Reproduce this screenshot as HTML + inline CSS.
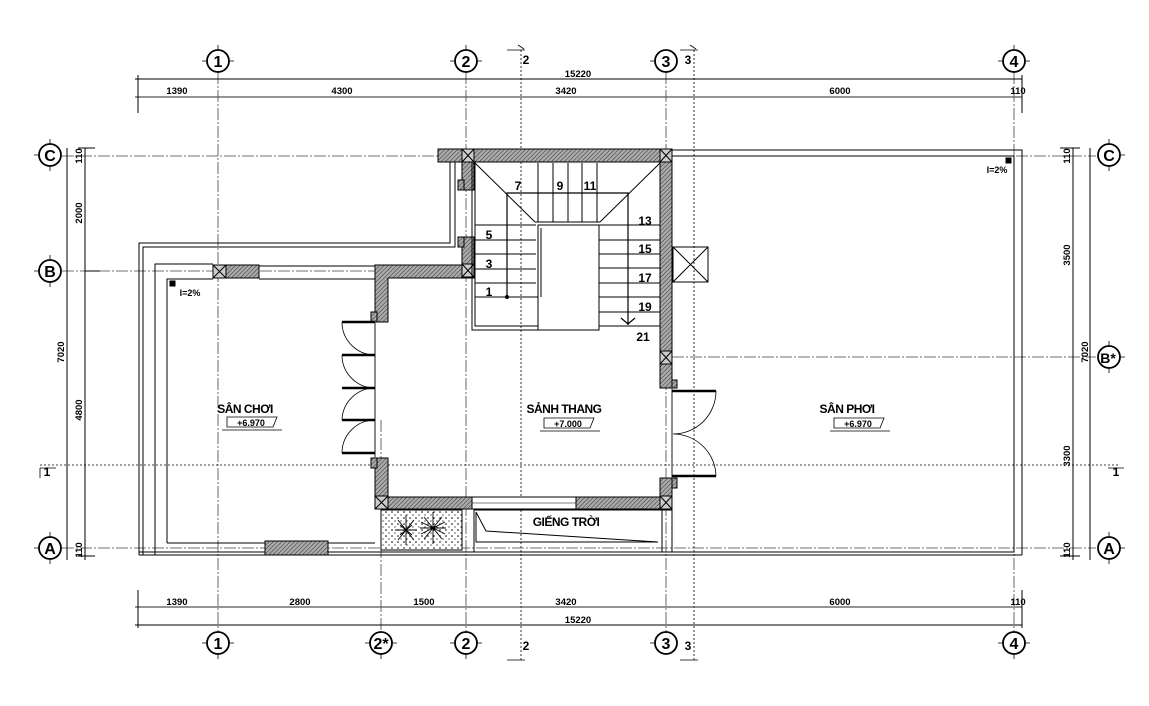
<!DOCTYPE html>
<html><head><meta charset="utf-8"><style>
html,body{margin:0;padding:0;background:#fff}
svg{display:block}
text{font-family:"Liberation Sans",sans-serif;font-weight:bold;fill:#000}
</style></head><body>
<svg width="1149" height="706" viewBox="0 0 1149 706" xmlns="http://www.w3.org/2000/svg">
<defs>
<pattern id="h" width="3" height="3" patternUnits="userSpaceOnUse" patternTransform="rotate(45)">
<rect width="3" height="3" fill="#aaa"/><line x1="0" y1="0" x2="0" y2="3" stroke="#333" stroke-width="1"/>
</pattern>
<pattern id="dots" width="6" height="6" patternUnits="userSpaceOnUse">
<rect width="6" height="6" fill="#fff"/><circle cx="2" cy="2" r="0.8" fill="#000"/><circle cx="5" cy="5" r="0.6" fill="#000"/>
</pattern>
</defs>
<g fill="none" stroke="#000" stroke-width="1">
<g stroke="#444" stroke-dasharray="12,2,2,2" stroke-width="0.8">
<line x1="218" y1="72" x2="218" y2="632"/>
<line x1="466" y1="72" x2="466" y2="632"/>
<line x1="666" y1="72" x2="666" y2="632"/>
<line x1="1014" y1="72" x2="1014" y2="632"/>
<line x1="381" y1="420" x2="381" y2="632"/>
<line x1="62" y1="156" x2="1096" y2="156"/>
<line x1="62" y1="271" x2="470" y2="271"/>
<line x1="672" y1="357" x2="1096" y2="357"/>
<line x1="62" y1="548" x2="1096" y2="548"/>
</g>
<g stroke="#000" stroke-dasharray="2,2" stroke-width="0.8">
<line x1="521" y1="50" x2="521" y2="660"/>
<line x1="694" y1="50" x2="694" y2="660"/>
<line x1="40" y1="465" x2="1120" y2="465"/>
</g>
<line x1="135" y1="79" x2="1022" y2="79"/>
<line x1="135" y1="97" x2="1022" y2="97" stroke="#555" stroke-width="1.3"/>
<line x1="138" y1="75" x2="138" y2="113"/>
<line x1="1022" y1="75" x2="1022" y2="113"/>
<line x1="135" y1="607" x2="1022" y2="607" stroke="#555" stroke-width="1.3"/>
<line x1="135" y1="625" x2="1022" y2="625"/>
<line x1="138" y1="590" x2="138" y2="628"/>
<line x1="1022" y1="590" x2="1022" y2="628"/>
<line x1="67" y1="148" x2="67" y2="560"/>
<line x1="85" y1="148" x2="85" y2="560"/>
<line x1="78" y1="148" x2="95" y2="148"/><line x1="78" y1="556" x2="95" y2="556"/>
<line x1="85" y1="271" x2="100" y2="271"/>
<line x1="1073" y1="148" x2="1073" y2="560"/>
<line x1="1090" y1="148" x2="1090" y2="560"/>
<line x1="1060" y1="148" x2="1080" y2="148"/><line x1="1060" y1="556" x2="1080" y2="556"/>
<g stroke-width="1.8">
<circle cx="218" cy="61" r="11"/><circle cx="466" cy="61" r="11"/><circle cx="666" cy="61" r="11"/><circle cx="1014" cy="61" r="11"/>
<circle cx="218" cy="643" r="11"/><circle cx="381" cy="643" r="11"/><circle cx="466" cy="643" r="11"/><circle cx="666" cy="643" r="11"/><circle cx="1014" cy="643" r="11"/>
<circle cx="50" cy="155" r="11"/><circle cx="50" cy="271" r="11"/><circle cx="50" cy="548" r="11"/>
<circle cx="1109" cy="155" r="11"/><circle cx="1109" cy="357" r="11"/><circle cx="1109" cy="548" r="11"/>
</g>
<g stroke-width="0.8">
<path d="M202 61h5M229 61h5M218 45v5M450 61h5M477 61h5M466 45v5M650 61h5M998 61h5M1025 61h5M1014 45v5"/>
<path d="M202 643h5M229 643h5M218 654v5M365 643h5M392 643h5M381 654v5M450 643h5M477 643h5M466 654v5M650 643h5M998 643h5M1025 643h5M1014 654v5"/>
<path d="M34 155h5M50 139v5M50 166v5M34 271h5M50 255v5M50 282v5M34 548h5M50 532v5M50 559v5"/>
<path d="M1120 155h5M1109 139v5M1109 166v5M1120 357h5M1109 341v5M1109 368v5M1120 548h5M1109 532v5M1109 559v5"/>
<path d="M507 50h18M518 45l6 4M680 50h18M690 45l6 4M507 660h18M680 660h18M40 468h16M40 468v10M1108 468h16"/>
</g>
<path d="M139 555V243H450V155" />
<path d="M143 555V247H455V162" />
<path d="M155 555V264H213"/>
<path d="M167 543V279H213"/>
<path d="M167 543H375"/>
<line x1="139" y1="555" x2="1022" y2="555"/>
<line x1="139" y1="552" x2="672" y2="552"/>
<path d="M259 279H375"/>
<path d="M259 266H375"/>
<path d="M672 150H1022V555"/>
<path d="M672 156H1014V552H672"/>
<line x1="672" y1="476" x2="672" y2="552"/>
<g fill="url(#h)" stroke="#000" stroke-width="1">
<rect x="438" y="149" width="234" height="13"/>
<rect x="462" y="162" width="12" height="28"/>
<rect x="458" y="180" width="6" height="10"/>
<rect x="462" y="237" width="12" height="40"/>
<rect x="458" y="237" width="6" height="10"/>
<path d="M375 265H474V278H388V322H375Z"/>
<rect x="371" y="312" width="6" height="10"/>
<rect x="226" y="265" width="33" height="13"/>
<rect x="660" y="162" width="12" height="226"/>
<rect x="672" y="380" width="5" height="8"/>
<rect x="660" y="478" width="12" height="32"/>
<rect x="672" y="478" width="5" height="10"/>
<rect x="375" y="458" width="13" height="50"/>
<rect x="371" y="458" width="6" height="10"/>
<rect x="375" y="497" width="97" height="12"/>
<rect x="576" y="497" width="96" height="12"/>
<rect x="265" y="541" width="63" height="14"/>
</g>
<g fill="#ccc" stroke="#000">
<rect x="462" y="149" width="12" height="13"/><rect x="660" y="149" width="12" height="13"/>
<rect x="462" y="264" width="12" height="13"/><rect x="213" y="265" width="13" height="13"/>
<rect x="660" y="351" width="12" height="13"/><rect x="660" y="496" width="12" height="13"/>
<rect x="375" y="496" width="13" height="13"/>
</g>
<path d="M462 149l12 13M474 149l-12 13M660 149l12 13M672 149l-12 13M462 264l12 13M474 264l-12 13M213 265l13 13M226 265l-13 13M660 351l12 13M672 351l-12 13M660 496l12 13M672 496l-12 13M375 496l13 13M388 496l-13 13"/>
<line x1="375" y1="322" x2="375" y2="458" stroke-width="1.5" stroke="#666"/>
<line x1="672" y1="388" x2="672" y2="478" stroke-width="1.5" stroke="#666"/>
<rect x="472" y="497" width="104" height="12" fill="#fff"/>
<line x1="472" y1="503" x2="576" y2="503" stroke-width="0.6"/>
<path d="M472 162V330H599"/>
<path d="M475 162V326H596V225H538V297H475"/>
<rect x="538" y="225" width="61" height="105" fill="#fff"/>
<path d="M541 228V297"/>
<path d="M475 163L535 222M660 163L600 222M535 222H600"/>
<path d="M538 163V222M553 163V222M568 163V222M582 163V222M597 163V222"/>
<path d="M475 225H536M475 240H536M475 254H536M475 269H536M475 283H536"/>
<path d="M599 225H660M599 240H660M599 254H660M599 268H660M599 283H660M599 297H660M599 312H660M599 326H660"/>
<path d="M507 297V193H628V325M621 318l7 6l7-6" stroke-width="1.2"/>
<circle cx="507" cy="297" r="1.5" fill="#000"/>
<rect x="673" y="247" width="35" height="35"/>
<path d="M673 247l35 35M708 247l-35 35"/>
<g stroke-width="0.8">
<path d="M342 322H375M342 355H375M342 388H375M342 420H375M342 453H375" stroke-width="2.5"/>
<path d="M342 322A33 33 0 0 0 375 355M342 355A33 33 0 0 0 375 388M342 420A33 33 0 0 1 375 388M342 453A33 33 0 0 1 375 420"/>
<path d="M672 391H716M672 476H716" stroke-width="2.5"/>
<path d="M716 391A43 43 0 0 1 673 434M716 476A43 43 0 0 0 673 434"/>
</g>
<rect x="381" y="510" width="81" height="40" fill="url(#dots)"/>
<g stroke-width="0.9">
<path d="M395 530l22 0M406 515l0 30M398 520l16 20M414 520l-16 20M400 525l12 10M412 525l-12 10"/>
<path d="M420 528l26 0M433 512l0 32M424 517l18 22M442 517l-18 22M421 522l24 12M445 522l-24 12"/>
</g>
<rect x="474" y="510" width="188" height="42"/>
<path d="M476 512L486 531L658 542H476V512"/>
<path d="M227 417h50l-4 10h-46zM222 430h60M544 418h50l-4 10h-46zM540 431h60M834 418h50l-4 10h-46zM830 431h60" stroke-width="0.8"/>
<rect x="170" y="281" width="5" height="5" fill="#000"/>
<rect x="1006" y="158" width="5" height="5" fill="#000"/>
</g>
<g font-size="9.5" text-anchor="middle">
<text x="177" y="94">1390</text><text x="342" y="94">4300</text><text x="566" y="94">3420</text><text x="840" y="94">6000</text><text x="1018" y="94">110</text>
<text x="578" y="77">15220</text>
<text x="177" y="605">1390</text><text x="300" y="605">2800</text><text x="424" y="605">1500</text><text x="566" y="605">3420</text><text x="840" y="605">6000</text><text x="1018" y="605">110</text>
<text x="578" y="623">15220</text>
<text transform="translate(82,213) rotate(-90)">2000</text>
<text transform="translate(82,410) rotate(-90)">4800</text>
<text transform="translate(64,352) rotate(-90)">7020</text>
<text transform="translate(82,156) rotate(-90)">110</text>
<text transform="translate(82,550) rotate(-90)">110</text>
<text transform="translate(1070,255) rotate(-90)">3500</text>
<text transform="translate(1070,456) rotate(-90)">3300</text>
<text transform="translate(1088,352) rotate(-90)">7020</text>
<text transform="translate(1070,156) rotate(-90)">110</text>
<text transform="translate(1070,550) rotate(-90)">110</text>
</g>
<g font-size="16" text-anchor="middle">
<text x="218" y="67">1</text><text x="466" y="67">2</text><text x="666" y="67">3</text><text x="1014" y="67">4</text>
<text x="218" y="649">1</text><text x="381" y="649">2*</text><text x="466" y="649">2</text><text x="666" y="649">3</text><text x="1014" y="649">4</text>
<text x="50" y="161">C</text><text x="50" y="277">B</text><text x="50" y="554">A</text>
<text x="1109" y="161">C</text><text x="1108" y="363" font-size="14">B*</text><text x="1109" y="554">A</text>
</g>
<g font-size="12" text-anchor="middle">
<text x="526" y="64">2</text><text x="688" y="64">3</text><text x="526" y="650">2</text><text x="688" y="650">3</text>
<text x="47" y="476">1</text><text x="1116" y="476">1</text>
<text x="518" y="190">7</text><text x="560" y="190">9</text><text x="590" y="190">11</text>
<text x="645" y="225">13</text><text x="645" y="253">15</text><text x="645" y="282">17</text><text x="645" y="311">19</text><text x="643" y="341">21</text>
<text x="489" y="239">5</text><text x="489" y="268">3</text><text x="489" y="296">1</text>
</g>
<g font-size="12" text-anchor="middle" letter-spacing="-0.5">
<text x="245" y="413">SÂN CHƠI</text>
<text x="564" y="413">SẢNH THANG</text>
<text x="847" y="413">SÂN PHƠI</text>
<text x="566" y="526">GIẾNG TRỜI</text>
</g>
<g font-size="9" text-anchor="middle">
<text x="251" y="426">+6.970</text><text x="568" y="427">+7.000</text><text x="858" y="427">+6.970</text>
<text x="190" y="296">l=2%</text><text x="997" y="173">l=2%</text>
</g>
</svg>
</body></html>
